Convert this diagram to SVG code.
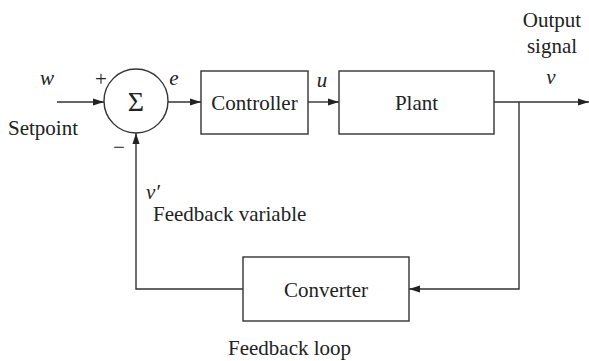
<svg xmlns="http://www.w3.org/2000/svg" width="589" height="361" viewBox="0 0 589 361">
<defs>
<style>
.box{fill:#fff;stroke:#333;stroke-width:1.4}
.ln{fill:none;stroke:#333;stroke-width:1.4}
.t{font-family:"Liberation Serif","Times New Roman","DejaVu Serif",serif;font-size:21px;fill:#222}
.i{font-style:italic}
</style>
<marker id="ah" markerWidth="12" markerHeight="8" refX="11" refY="4" orient="auto" markerUnits="userSpaceOnUse">
<path d="M0,0.5 L11,4 L0,7.5 Z" fill="#222"/>
</marker>
</defs>
<rect width="589" height="361" fill="#fff"/>
<g id="connectors">
<line class="ln" x1="57" y1="102" x2="104" y2="102" marker-end="url(#ah)"/>
<line class="ln" x1="168" y1="102" x2="201" y2="102" marker-end="url(#ah)"/>
<line class="ln" x1="308" y1="102" x2="339" y2="102" marker-end="url(#ah)"/>
<line class="ln" x1="494" y1="102" x2="589" y2="102" marker-end="url(#ah)"/>
<polyline class="ln" points="519,102 519,289 409,289" marker-end="url(#ah)"/>
<polyline class="ln" points="243,289 136,289 136,133" marker-end="url(#ah)"/>
</g>
<g id="sum">
<circle class="box" cx="136" cy="101" r="32"/>
<text class="t" x="136" y="111" text-anchor="middle" style="font-size:28px">Σ</text>
</g>
<g id="controller">
<rect class="box" x="201" y="71" width="107" height="63"/>
<text class="t" x="254.5" y="110" text-anchor="middle">Controller</text>
</g>
<g id="plant">
<rect class="box" x="339" y="71" width="155" height="63"/>
<text class="t" x="416.5" y="110" text-anchor="middle">Plant</text>
</g>
<g id="converter">
<rect class="box" x="243" y="257" width="166" height="64"/>
<text class="t" x="326" y="297" text-anchor="middle">Converter</text>
</g>
<g id="labels">
<text class="t i" x="47" y="85" text-anchor="middle">w</text>
<text class="t" x="101" y="86" text-anchor="middle" style="font-size:21px">+</text>
<text class="t" x="8" y="135">Setpoint</text>
<text class="t i" x="174" y="85" text-anchor="middle">e</text>
<text class="t i" x="322" y="87" text-anchor="middle">u</text>
<text class="t i" x="551" y="84" text-anchor="middle">v</text>
<text class="t" x="552" y="27" text-anchor="middle">Output</text>
<text class="t" x="552" y="53" text-anchor="middle">signal</text>
<text class="t" x="119" y="154" text-anchor="middle" style="font-size:21px">−</text>
<text class="t i" x="146" y="199">v′</text>
<text class="t" x="153" y="221">Feedback variable</text>
<text class="t" x="228" y="355">Feedback loop</text>
</g>
</svg>
